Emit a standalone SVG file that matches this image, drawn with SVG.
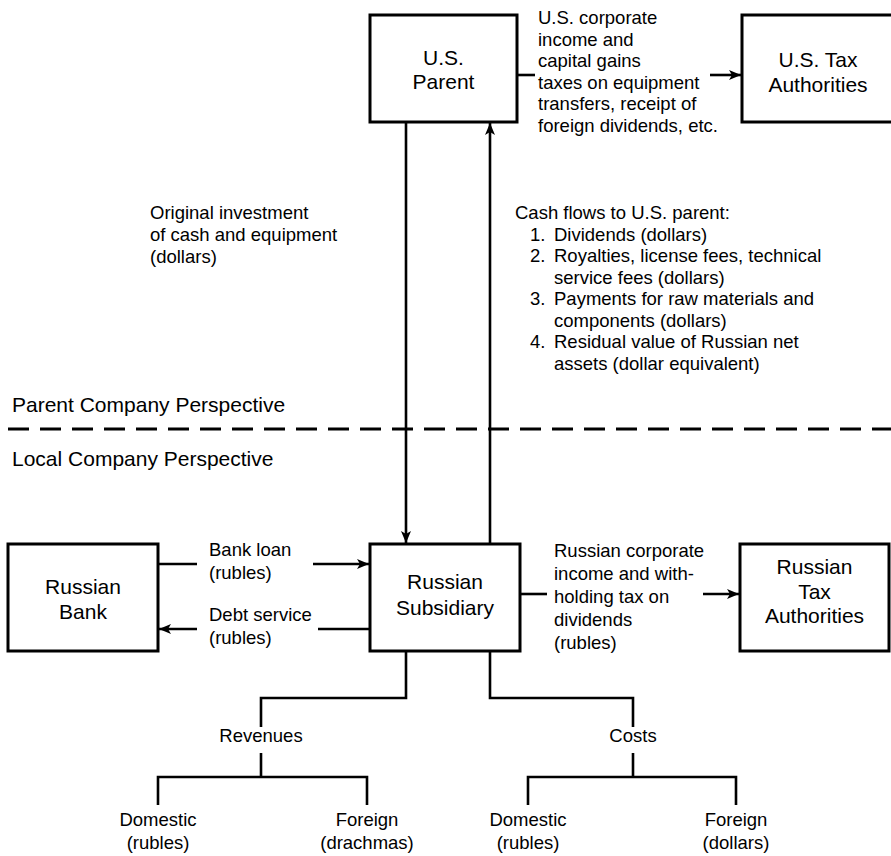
<svg xmlns="http://www.w3.org/2000/svg" width="891" height="856" viewBox="0 0 891 856">
  <style>
    .box { fill: #fff; stroke: #000; stroke-width: 3; }
    .ln { fill: none; stroke: #000; stroke-width: 2.6; }
    .node { font-family: "Liberation Sans", Arial, sans-serif; font-size: 21px; fill: #000; text-anchor: middle; }
    .lbl { font-family: "Liberation Sans", Arial, sans-serif; font-size: 18.5px; fill: #000; }
    .mid { text-anchor: middle; }
    .persp { font-family: "Liberation Sans", Arial, sans-serif; font-size: 21px; fill: #000; }
  </style>
  <defs>
    <marker id="arrow" markerUnits="userSpaceOnUse" markerWidth="12" markerHeight="12" viewBox="0 0 12 12" refX="12" refY="6" orient="auto">
      <path d="M0,1 L12,6 L0,11 L3,6 Z" fill="#000"/>
    </marker>
  </defs>

  <rect width="891" height="856" fill="#fff"/>

  <!-- perspective divider -->
  <g id="divider">
    <line x1="8" y1="429" x2="891" y2="429" stroke="#000" stroke-width="3" stroke-dasharray="21 11"/>
    <text class="persp" x="12" y="412">Parent Company Perspective</text>
    <text class="persp" x="12" y="466">Local Company Perspective</text>
  </g>

  <!-- connectors -->
  <g id="connectors">
    <!-- parent to tax authorities -->
    <line class="ln" x1="517" y1="75" x2="535" y2="75"/>
    <line class="ln" x1="710" y1="75" x2="741" y2="75" marker-end="url(#arrow)"/>
    <!-- investment down, cash flows up -->
    <line class="ln" x1="406" y1="122" x2="406" y2="543" marker-end="url(#arrow)"/>
    <line class="ln" x1="490" y1="544" x2="490" y2="123" marker-end="url(#arrow)"/>
    <!-- bank loan -->
    <line class="ln" x1="158" y1="564" x2="197" y2="564"/>
    <line class="ln" x1="313" y1="564" x2="369" y2="564" marker-end="url(#arrow)"/>
    <!-- debt service -->
    <line class="ln" x1="370" y1="629" x2="318" y2="629"/>
    <line class="ln" x1="197" y1="629" x2="159" y2="629" marker-end="url(#arrow)"/>
    <!-- Russian taxes -->
    <line class="ln" x1="520" y1="594" x2="547" y2="594"/>
    <line class="ln" x1="703" y1="594" x2="739" y2="594" marker-end="url(#arrow)"/>
    <!-- revenues tree -->
    <polyline class="ln" points="406,651 406,698 261,698 261,727"/>
    <line class="ln" x1="261" y1="753" x2="261" y2="777"/>
    <polyline class="ln" points="158,805 158,777 367,777 367,805"/>
    <!-- costs tree -->
    <polyline class="ln" points="490,651 490,698 633,698 633,727"/>
    <line class="ln" x1="633" y1="753" x2="633" y2="777"/>
    <polyline class="ln" points="528,805 528,777 736,777 736,805"/>
  </g>

  <!-- nodes -->
  <g id="us-parent">
    <rect class="box" x="370" y="15" width="147" height="107"/>
    <text class="node" x="443.5" y="65">U.S.</text>
    <text class="node" x="443.5" y="89">Parent</text>
  </g>
  <g id="us-tax">
    <rect class="box" x="742" y="15" width="152" height="107"/>
    <text class="node" x="818" y="67">U.S. Tax</text>
    <text class="node" x="818" y="92">Authorities</text>
  </g>
  <g id="russian-bank">
    <rect class="box" x="8" y="544" width="150" height="107"/>
    <text class="node" x="83" y="594">Russian</text>
    <text class="node" x="83" y="619">Bank</text>
  </g>
  <g id="russian-subsidiary">
    <rect class="box" x="370" y="544" width="150" height="107"/>
    <text class="node" x="445" y="589">Russian</text>
    <text class="node" x="445" y="615">Subsidiary</text>
  </g>
  <g id="russian-tax">
    <rect class="box" x="740" y="544" width="149" height="107"/>
    <text class="node" x="814.5" y="574">Russian</text>
    <text class="node" x="814.5" y="598.5">Tax</text>
    <text class="node" x="814.5" y="623">Authorities</text>
  </g>

  <!-- flow labels -->
  <g id="labels">
    <text class="lbl">
      <tspan x="538" y="24">U.S. corporate</tspan>
      <tspan x="538" y="45.5">income and</tspan>
      <tspan x="538" y="67">capital gains</tspan>
      <tspan x="538" y="88.5">taxes on equipment</tspan>
      <tspan x="538" y="110">transfers, receipt of</tspan>
      <tspan x="538" y="131.5">foreign dividends, etc.</tspan>
    </text>
    <text class="lbl">
      <tspan x="150" y="219">Original investment</tspan>
      <tspan x="150" y="241">of cash and equipment</tspan>
      <tspan x="150" y="263">(dollars)</tspan>
    </text>
    <text class="lbl">
      <tspan x="515" y="219">Cash flows to U.S. parent:</tspan>
      <tspan x="530" y="240.5">1.</tspan><tspan x="554" y="240.5">Dividends (dollars)</tspan>
      <tspan x="530" y="262">2.</tspan><tspan x="554" y="262">Royalties, license fees, technical</tspan>
      <tspan x="554" y="283.5">service fees (dollars)</tspan>
      <tspan x="530" y="305">3.</tspan><tspan x="554" y="305">Payments for raw materials and</tspan>
      <tspan x="554" y="326.5">components (dollars)</tspan>
      <tspan x="530" y="348">4.</tspan><tspan x="554" y="348">Residual value of Russian net</tspan>
      <tspan x="554" y="369.5">assets (dollar equivalent)</tspan>
    </text>
    <text class="lbl">
      <tspan x="209" y="556">Bank loan</tspan>
      <tspan x="209" y="579">(rubles)</tspan>
    </text>
    <text class="lbl">
      <tspan x="209" y="621">Debt service</tspan>
      <tspan x="209" y="644">(rubles)</tspan>
    </text>
    <text class="lbl">
      <tspan x="554" y="557">Russian corporate</tspan>
      <tspan x="554" y="580">income and with-</tspan>
      <tspan x="554" y="603">holding tax on</tspan>
      <tspan x="554" y="626">dividends</tspan>
      <tspan x="554" y="649">(rubles)</tspan>
    </text>
    <text class="lbl mid" x="261" y="742">Revenues</text>
    <text class="lbl mid" x="633" y="742">Costs</text>
    <text class="lbl mid"><tspan x="158" y="826">Domestic</tspan><tspan x="158" y="849">(rubles)</tspan></text>
    <text class="lbl mid"><tspan x="367" y="826">Foreign</tspan><tspan x="367" y="849">(drachmas)</tspan></text>
    <text class="lbl mid"><tspan x="528" y="826">Domestic</tspan><tspan x="528" y="849">(rubles)</tspan></text>
    <text class="lbl mid"><tspan x="736" y="826">Foreign</tspan><tspan x="736" y="849">(dollars)</tspan></text>
  </g>
</svg>
